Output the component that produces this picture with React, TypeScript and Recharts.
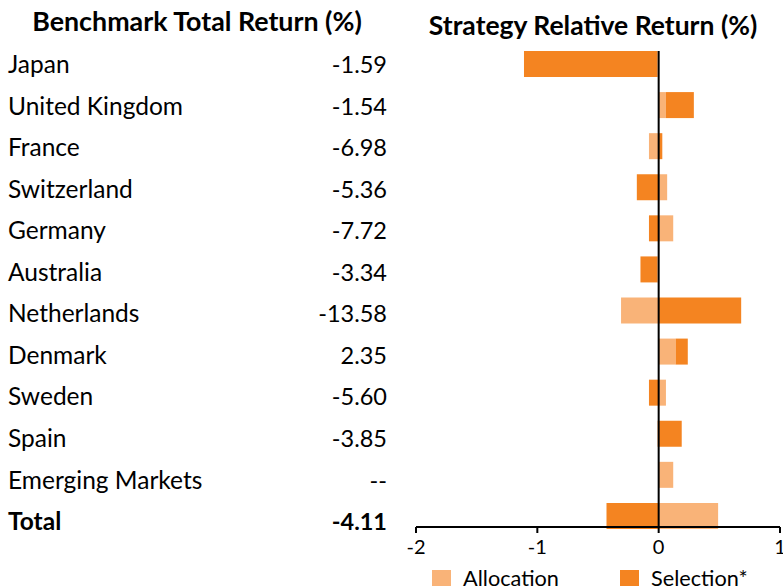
import React from 'react';
import { BarChart, Bar, XAxis, YAxis, ReferenceLine, Legend } from 'recharts';

const countries = ['Japan', 'United Kingdom', 'France', 'Switzerland', 'Germany', 'Australia', 'Netherlands', 'Denmark', 'Sweden', 'Spain', 'Emerging Markets', 'Total'];
const benchmarkReturn = ['-1.59', '-1.54', '-6.98', '-5.36', '-7.72', '-3.34', '-13.58', '2.35', '-5.60', '-3.85', '--', '-4.11'];
const allocation = [-0.01, 0.06, -0.08, 0.07, 0.12, -0.01, -0.31, 0.14, 0.06, -0.01, 0.12, 0.49];
const selection = [-1.10, 0.23, 0.03, -0.18, -0.08, -0.14, 0.68, 0.10, -0.08, 0.19, 0, -0.43];
const xTicks = [-2, -1, 0, 1];

const data = countries.map((c, i) => ({ name: c, Allocation: allocation[i], 'Selection*': selection[i] }));

const LIGHT = '#F9B378';
const DARK = '#F48421';
const FONT = 'Lato, "Open Sans", sans-serif';

const LegendContent = (props: any) => {
  const payload = props.payload || [];
  return (
    <svg width={360} height={24} style={{ display: 'block', overflow: 'visible' }}>
      {payload.map((p: any, i: number) => (
        <g key={i} transform={`translate(${i * 188},0)`}>
          <rect x={2} y={4} width={19} height={19} fill={p.color} />
          <text x={33} y={20} fontSize={21.7} fontFamily={FONT} fill="#000">{p.value}</text>
        </g>
      ))}
    </svg>
  );
};

export default function App() {
  return (
    <div style={{ position: 'absolute', left: 0, top: 0, width: 783, height: 586, background: '#fff', overflow: 'hidden' }}>
      <svg width={783} height={586} style={{ position: 'absolute', left: 0, top: 0 }}>
        <text x={197} y={31} textAnchor="middle" fontSize={26.8} fontWeight="bold" fontFamily={FONT} fill="#000">Benchmark Total Return (%)</text>
        <text x={593} y={35} textAnchor="middle" fontSize={26.5} fontWeight="bold" fontFamily={FONT} fill="#000">Strategy Relative Return (%)</text>
        {countries.map((c, i) => {
          const bold = c === 'Total';
          const y = 73 + i * 41.55;
          return (
            <g key={c}>
              <text x={8} y={y} fontSize={24.5} fontWeight={bold ? 'bold' : 'normal'} fontFamily={FONT} fill="#000">{c}</text>
              <text x={387} y={y} textAnchor="end" fontSize={23.5} fontWeight={bold ? 'bold' : 'normal'} fontFamily={FONT} fill="#000">{benchmarkReturn[i]}</text>
            </g>
          );
        })}
      </svg>
      <div style={{ position: 'absolute', left: 0, top: 0 }}>
        <BarChart width={783} height={586} data={data} layout="vertical" stackOffset="sign" margin={{ top: 51, right: 3, bottom: 29, left: 416 }}>
          <XAxis type="number" domain={[-2, 1]} ticks={xTicks} allowDataOverflow height={30}
            axisLine={{ stroke: '#000', strokeWidth: 2 }} tickLine={{ stroke: '#000', strokeWidth: 2 }} tickSize={6} tickMargin={7}
            tick={{ fill: '#000', fontSize: 20, fontFamily: FONT }} interval={0} />
          <YAxis type="category" dataKey="name" hide padding={{ top: -8, bottom: -9 }} />
          <Bar dataKey="Allocation" stackId="a" fill={LIGHT} barSize={26} isAnimationActive={false} />
          <Bar dataKey="Selection*" stackId="a" fill={DARK} barSize={26} isAnimationActive={false} />
          <ReferenceLine x={0} stroke="#000" strokeWidth={2} />
          <Legend layout="horizontal" verticalAlign="middle" align="center" content={LegendContent}
            wrapperStyle={{ top: 566, left: 430, width: 360, height: 24 }} />
        </BarChart>
      </div>
    </div>
  );
}
